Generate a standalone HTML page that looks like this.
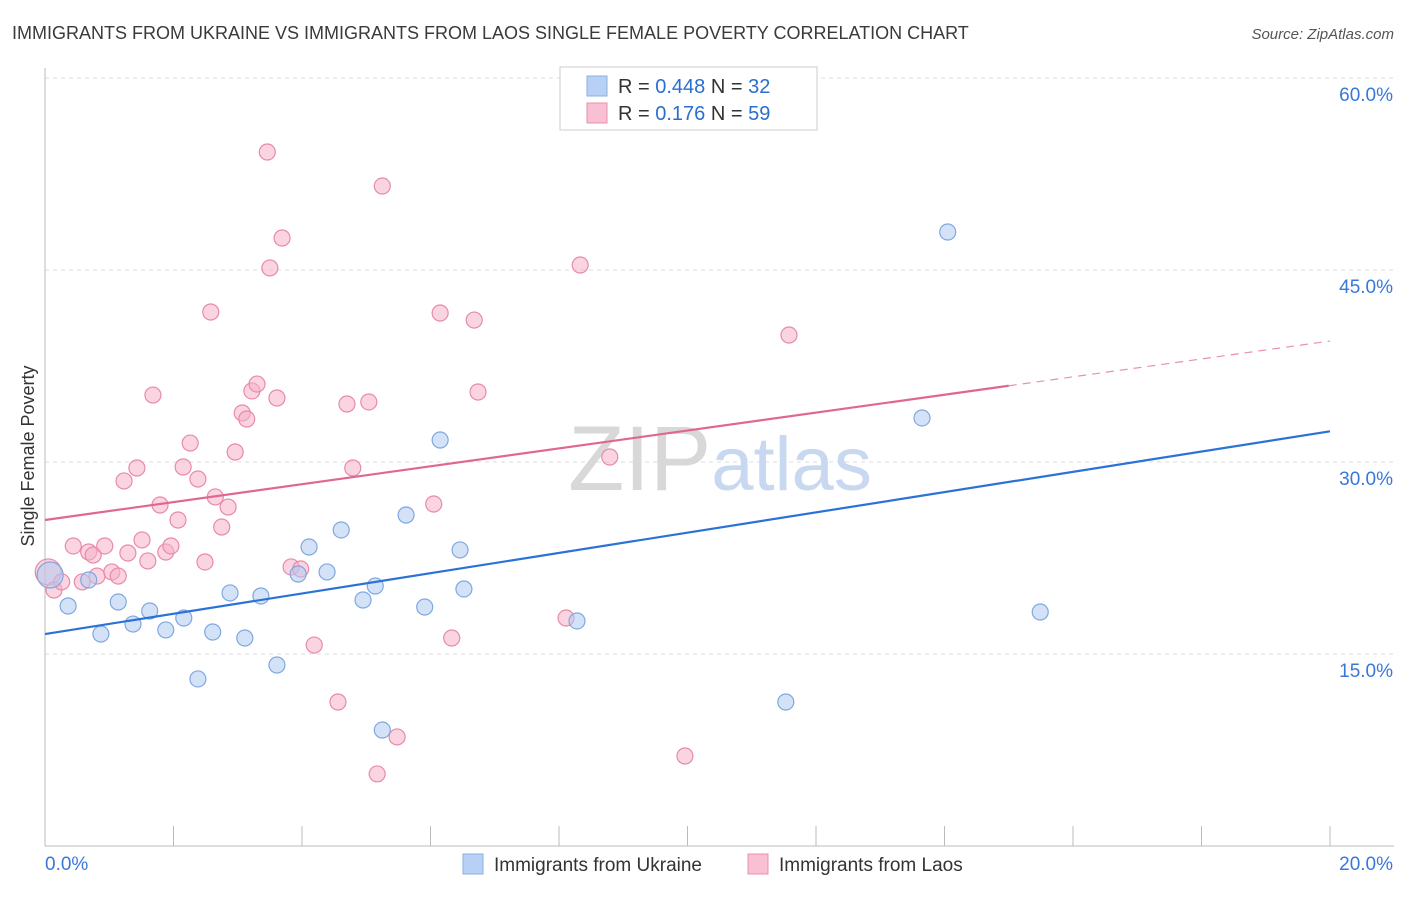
<!DOCTYPE html>
<html><head><meta charset="utf-8"><style>
body{margin:0;background:#fff;font-family:"Liberation Sans",sans-serif}
svg text{font-family:"Liberation Sans",sans-serif}
</style></head><body>
<svg id="chart" width="1406" height="892" viewBox="0 0 1406 892" xmlns="http://www.w3.org/2000/svg">
<text x="12" y="39" font-size="18" fill="#3a3a3a">IMMIGRANTS FROM UKRAINE VS IMMIGRANTS FROM LAOS SINGLE FEMALE POVERTY CORRELATION CHART</text>
<text x="1394" y="39" font-size="15" fill="#555" font-style="italic" text-anchor="end">Source: ZipAtlas.com</text>
<g id="grid"></g>
<g id="axes"></g>
<text x="720" y="490" font-size="92" text-anchor="middle" fill="#d8d8d8" font-family="Liberation Serif"><tspan>ZIP</tspan><tspan fill="#c8d8f0" font-family="Liberation Sans" font-size="76">atlas</tspan></text>
<text transform="translate(34,456) rotate(-90)" font-size="18" fill="#333" text-anchor="middle">Single Female Poverty</text>
<g id="marks"></g>
<g id="lines"></g>
<g>
<rect x="560" y="67" width="257" height="63" fill="#fff" stroke="#ccc"/>
<rect x="587" y="76" width="20" height="20" fill="#b8d0f5" stroke="#8ab0e0"/>
<rect x="587" y="103" width="20" height="20" fill="#f8c0d2" stroke="#e890ae"/>
<text x="618" y="93" font-size="20" fill="#333">R = <tspan fill="#2a6fd0">0.448</tspan>   N = <tspan fill="#2a6fd0">32</tspan></text>
<text x="618" y="120" font-size="20" fill="#333">R =  <tspan fill="#2a6fd0">0.176</tspan>   N = <tspan fill="#2a6fd0">59</tspan></text>
</g>
<g>
<rect x="463" y="854" width="20" height="20" fill="#b8d0f5" stroke="#8ab0e0"/>
<text x="494" y="871" font-size="19" fill="#333">Immigrants from Ukraine</text>
<rect x="748" y="854" width="20" height="20" fill="#f8c0d2" stroke="#e890ae"/>
<text x="779" y="871" font-size="19" fill="#333">Immigrants from Laos</text>
</g>
</svg>
<script>
const yTicks=[15,30,45,60];
const yTickLabels=["15.0%","30.0%","45.0%","60.0%"];
const xTicks=[0,2,4,6,8,10,12,14,16,18,20];
const ukraineX=[0.36,0.87,0.68,1.14,1.37,1.63,1.88,2.16,2.38,2.61,2.88,3.11,3.36,3.61,3.94,4.11,4.39,4.61,4.95,5.14,5.25,5.62,5.91,6.15,6.46,6.52,8.28,11.53,13.65,14.05,15.49,0.08];
const ukraineY=[18.75,16.56,20.78,19.06,17.34,18.36,16.88,17.81,13.05,16.72,19.77,16.25,19.53,14.14,21.25,23.36,21.41,24.69,19.22,20.31,9.06,25.86,18.67,31.72,23.13,20.08,17.58,11.25,33.44,47.97,18.28,21.17];
const laosX=[0.05,0.14,0.26,0.44,0.58,0.68,0.75,0.81,0.93,1.04,1.14,1.23,1.29,1.43,1.51,1.60,1.68,1.79,1.88,1.96,2.07,2.15,2.26,2.38,2.49,2.58,2.65,2.75,2.85,2.96,3.07,3.14,3.22,3.30,3.46,3.50,3.61,3.69,3.83,3.98,4.19,4.56,4.70,4.79,5.04,5.17,5.25,5.48,6.05,6.15,6.33,6.68,6.74,8.11,8.33,8.79,9.96,11.58];
const laosY=[21.41,20.0,20.63,23.44,20.63,22.97,22.73,21.09,23.44,21.41,21.09,28.52,22.89,29.53,23.91,22.27,35.23,26.64,22.97,23.44,25.47,29.61,31.48,28.67,22.19,41.72,27.27,24.92,26.48,30.78,33.83,33.36,35.55,36.09,54.22,45.16,35.0,47.5,21.8,21.64,15.7,11.25,34.53,29.53,34.69,5.63,51.56,8.52,26.72,41.64,16.25,41.09,35.47,17.81,45.39,30.39,7.03,39.92];
const ukraineTrend=[16.56,32.4];
const laosTrend=[25.47,39.45];
const laosSolidEnd=15.0;
const NS="http://www.w3.org/2000/svg";
const X=v=>45+v*64.25, Y=v=>846-v*12.8;
function mk(t,a,p){const e=document.createElementNS(NS,t);for(const k in a)e.setAttribute(k,a[k]);p.appendChild(e);return e;}
const grid=document.getElementById('grid'),axes=document.getElementById('axes'),marks=document.getElementById('marks'),lines=document.getElementById('lines');
yTicks.forEach((t,i)=>{
 const l=mk('line',{x1:45,x2:1394,y1:Y(t),y2:Y(t),stroke:'#ddd','stroke-dasharray':'4,4'},grid);
 
 
 const tx=mk('text',{x:1393,y:Y(t)+23,'font-size':19,fill:'#3a78d8','text-anchor':'end'},axes);
 tx.textContent=yTickLabels[i];
 
 
});
mk('line',{x1:45,x2:45,y1:68,y2:846,stroke:'#bbb'},axes);
mk('line',{x1:45,x2:1394,y1:846,y2:846,stroke:'#bbb'},axes);
xTicks.forEach(t=>{const l=mk('line',{x1:X(t),x2:X(t),y1:826,y2:846,stroke:'#bbb'},axes);
 
 });
const x0=mk('text',{x:45,y:870,'font-size':19,fill:'#3a78d8'},axes);x0.textContent='0.0%';


const x1=mk('text',{x:1393,y:870,'font-size':19,fill:'#3a78d8','text-anchor':'end'},axes);x1.textContent='20.0%';


function pts(xs,ys,fill,stroke,name){xs.forEach((x,i)=>{
 const r=(x<0.1)?13:8;
 const c=mk('circle',{cx:X(x),cy:Y(ys[i]),r:r,fill:fill,'fill-opacity':0.55,stroke:stroke,'stroke-width':1.2},marks);
 
 });}
pts(laosX,laosY,'#f5b0c8','#e88aa8','laos-point');
pts(ukraineX,ukraineY,'#b0cbf0','#7fa8e0','ukraine-point');
const bl=mk('line',{x1:X(0),y1:Y(ukraineTrend[0]),x2:X(20),y2:Y(ukraineTrend[1]),stroke:'#2a72d8','stroke-width':2.2},lines);


const lv=v=>laosTrend[0]+(laosTrend[1]-laosTrend[0])*v/20;
const pl=mk('line',{x1:X(0),y1:Y(laosTrend[0]),x2:X(laosSolidEnd),y2:Y(lv(laosSolidEnd)),stroke:'#e0678f','stroke-width':2.2},lines);


const pd=mk('line',{x1:X(laosSolidEnd),y1:Y(lv(laosSolidEnd)),x2:X(20),y2:Y(laosTrend[1]),stroke:'#e891ad','stroke-width':1.2,'stroke-dasharray':'8,6'},lines);


</script>
</body></html>
